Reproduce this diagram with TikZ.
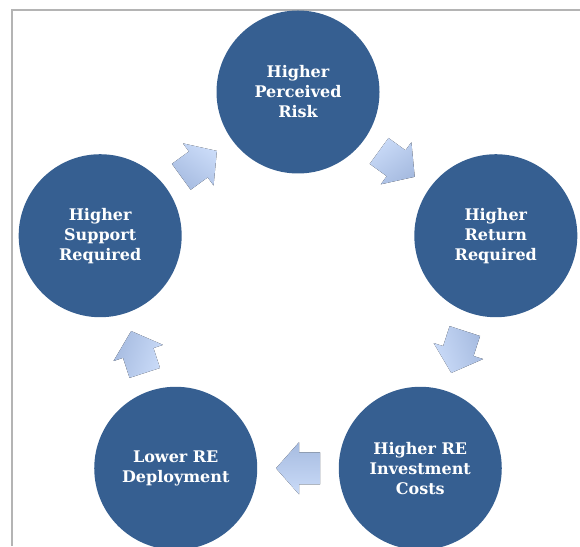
\documentclass[tikz,border=0pt]{standalone}
\usepackage{fontspec}
\setmainfont{DejaVu Serif}
\usetikzlibrary{calc}
\definecolor{circblue}{HTML}{365F91}
\definecolor{arrtop}{HTML}{CADBF8}
\definecolor{arrbot}{HTML}{A6BBE0}
\definecolor{framegray}{HTML}{B4B4B4}
\begin{document}
\begin{tikzpicture}[x=1pt,y=1pt,
  stage/.style={circle, fill=circblue, minimum size=163pt, inner sep=0pt,
    text=white, font=\fontsize{16}{20}\selectfont\bfseries, align=center},
  blockarrow/.style={top color=arrtop, bottom color=arrbot, draw=none}]
\useasboundingbox (0,0) rectangle (580,546);
\clip (0,0) rectangle (580,546);
\draw[framegray, line width=1.2pt] (12,0) -- (12,536) -- (580,536);
\coordinate (c) at (298,246);
\node[stage] (risk) at ($(c)+(90:208)$) {Higher\\Perceived\\Risk};
\node[stage] (ret) at ($(c)+(18:208)$) {Higher\\Return\\Required};
\node[stage] (cost) at ($(c)+(-54:208)$) {Higher RE\\Investment\\Costs};
\node[stage] (depl) at ($(c)+(-126:208)$) {Lower RE\\Deployment};
\node[stage] (supp) at ($(c)+(162:208)$) {Higher\\Support\\Required};
\foreach \a/\b/\r in {risk/ret/-36, ret/cost/-108, cost/depl/180, depl/supp/108, supp/risk/36} {
  \begin{scope}[shift={($(\a)!0.5!(\b)$)}, rotate=\r]
    \fill[blockarrow, shading angle=-\r]
      (-22,-16) -- (-1,-16) -- (-1,-26) -- (22,0) -- (-1,26) -- (-1,16) -- (-22,16) -- cycle;
  \end{scope}
}
\end{tikzpicture}
\end{document}
